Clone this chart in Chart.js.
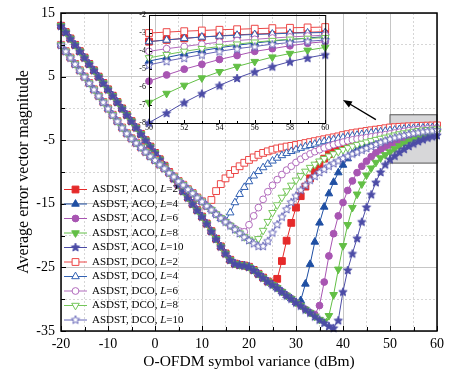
<!DOCTYPE html>
<html>
<head>
<meta charset="utf-8">
<script src="https://cdn.jsdelivr.net/npm/chart.js@4.4.0/dist/chart.umd.min.js"></script>
<style>
  body { margin: 0; background: #fff; }
  #wrap { position: relative; width: 450px; height: 384px; }
  #main { position: absolute; left: 0; top: 0; width: 450px; height: 384px; }
  #inset { position: absolute; left: 131px; top: 8px; width: 200px; height: 127px; }
</style>
</head>
<body>
<div id="wrap">
  <canvas id="main" width="450" height="384"></canvas>
  <canvas id="inset" width="200" height="127"></canvas>
</div>
<script>
"use strict";

// x grid of the simulation: -20 ... 60 dBm, step 1
const xValues = [];
for (let v = -20; v <= 60; v++) xValues.push(v);

// ACO curves all lie on this line until they break away (x = -20 ... 38)
const acoShared = [13.0, 12.0, 11.0, 10.0, 9.0, 8.0, 7.0, 6.0, 5.0, 4.0, 3.0, 2.0, 1.0, 0.0, -1.0,
  -2.0, -3.0, -4.0, -5.0, -6.0, -7.0, -8.0, -9.0, -10.0, -11.0, -12.0, -13.0, -14.0, -15.0, -16.0,
  -17.0, -18.1, -19.3, -20.5, -21.7, -22.8, -23.8, -24.4, -24.6, -24.7, -24.9, -25.4, -26.0, -26.6,
  -27.2, -27.7, -28.2, -28.8, -29.4, -29.9, -30.5, -31.0, -31.6, -32.1, -32.7, -33.2, -33.7, -34.2, -34.5];

// DCO curves share this line (x = -20 ... 22)
const dcoShared = [10.0, 9.0, 8.0, 7.0, 6.0, 5.0, 4.0, 3.0, 2.0, 1.0, 0.0, -1.0, -2.0, -3.0, -3.9,
  -4.7, -5.4, -6.1, -6.8, -7.5, -8.1, -8.8, -9.4, -10.1, -10.7, -11.4, -12.0, -12.7, -13.3, -14.0,
  -14.6, -15.3, -15.9, -16.6, -17.2, -17.8, -18.4, -19.0, -19.6, -20.2, -20.7, -21.2, -21.7];

// tails after each curve leaves the shared line, up to x = 60
const aco2Tail = [-27.5, -26.8, -24.0, -20.8, -18.0, -15.6, -13.8, -12.3, -11.0, -9.8, -8.8, -7.9,
  -7.2, -6.6, -6.1, -5.7, -5.35, -5.05, -4.78, -4.55, -4.35, -4.15, -3.97, -3.8, -3.63, -3.48,
  -3.38, -3.3, -3.22, -3.16, -3.1, -3.06, -3.02, -2.99, -2.96, -2.93];            // from x = 25
const aco4Tail = [-30.2, -27.6, -24.5, -21.0, -18.0, -15.5, -13.4, -11.6, -10.1, -8.9, -7.9, -7.1,
  -6.5, -6.0, -5.6, -5.3, -5.05, -4.85, -4.7, -4.56, -4.36, -4.16, -3.98, -3.82, -3.68, -3.56,
  -3.45, -3.36, -3.28, -3.2];                                                      // from x = 31
const aco6Tail = [-32.4, -31.0, -27.3, -23.2, -19.7, -16.9, -14.8, -12.9, -11.4, -10.1, -9.1, -8.3,
  -7.6, -7.0, -6.5, -6.05, -5.68, -5.33, -5.01, -4.74, -4.47, -4.25, -4.02, -3.87, -3.71, -3.57,
  -3.48];                                                                          // from x = 34
const aco8Tail = [-33.5, -32.6, -29.3, -25.3, -21.6, -18.3, -15.6, -13.5, -11.9, -10.5, -9.4, -8.5,
  -7.8, -7.3, -6.86, -6.36, -5.91, -5.5, -5.15, -4.86, -4.59, -4.34, -4.14, -3.96, -3.8]; // from x = 36
const aco10Tail = [-33.3, -28.8, -25.4, -22.8, -20.4, -17.8, -15.5, -13.5, -11.6, -10.0, -8.8, -7.98,
  -7.44, -6.86, -6.36, -5.91, -5.5, -5.15, -4.86, -4.59, -4.38, -4.2];              // from x = 39

const dco2Tail = [-14.4, -13.0, -11.9, -11.0, -10.3, -9.7, -9.1, -8.55, -8.1, -7.7, -7.3, -7.0,
  -6.75, -6.5, -6.3, -6.15, -6.0, -5.9, -5.75, -5.6, -5.45, -5.3, -5.15, -5.0, -4.85, -4.7, -4.55,
  -4.4, -4.2, -4.05, -3.9, -3.78, -3.66, -3.55, -3.44, -3.34, -3.24, -3.12, -3.0, -2.95, -2.9,
  -2.86, -2.82, -2.79, -2.76, -2.73, -2.71, -2.69, -2.67];                          // from x = 12
const dco4Tail = [-17.3, -17.7, -16.4, -14.8, -13.5, -12.4, -11.5, -10.6, -9.9, -9.3, -8.75, -8.25,
  -7.8, -7.4, -7.05, -6.75, -6.5, -6.25, -6.0, -5.8, -5.6, -5.4, -5.2, -5.05, -4.9, -4.75, -4.6,
  -4.45, -4.32, -4.2, -4.08, -3.97, -3.86, -3.76, -3.66, -3.57, -3.48, -3.39, -3.3, -3.22, -3.17,
  -3.12, -3.08, -3.05, -3.01, -2.99, -2.97];                                        // from x = 14
const dco6Tail = [-18.9, -19.3, -19.4, -18.3, -16.9, -15.6, -14.3, -13.1, -12.1, -11.2, -10.4, -9.7,
  -9.1, -8.5, -8.0, -7.55, -7.15, -6.8, -6.5, -6.2, -5.95, -5.7, -5.5, -5.3, -5.1, -4.95, -4.82,
  -4.71, -4.6, -4.48, -4.36, -4.24, -4.13, -4.02, -3.87, -3.75, -3.62, -3.51, -3.42, -3.35, -3.28,
  -3.22, -3.17, -3.12];                                                             // from x = 17
const dco8Tail = [-20.6, -20.9, -20.5, -19.2, -17.8, -16.4, -15.2, -14.0, -13.0, -12.1, -11.3, -10.6,
  -9.9, -9.3, -8.8, -8.3, -7.9, -7.5, -7.15, -6.8, -6.5, -6.2, -5.95, -5.7, -5.5, -5.3, -5.1, -4.9,
  -4.72, -4.55, -4.38, -4.2, -4.02, -3.87, -3.75, -3.62, -3.51, -3.42, -3.35, -3.3, -3.26]; // from x = 20
const dco10Tail = [-21.6, -21.6, -20.8, -19.5, -18.2, -17.0, -15.8, -14.7, -13.7, -12.8, -12.0, -11.2,
  -10.6, -10.0, -9.5, -9.0, -8.6, -8.2, -7.8, -7.45, -7.1, -6.8, -6.5, -6.2, -5.9, -5.6, -5.3, -5.03,
  -4.77, -4.56, -4.38, -4.2, -4.02, -3.87, -3.75, -3.62, -3.53, -3.46, -3.39];      // from x = 22

const join = (shared, startX, tail) => shared.slice(0, startX + 20).concat(tail);

const serif = "'Liberation Serif', 'Times New Roman', serif";

const makeStar = (color, filled, r) => {
    const s = Math.ceil(r * 2 + 3);
    const c = document.createElement("canvas");
    c.width = s; c.height = s;
    const g = c.getContext("2d");
    g.translate(s / 2, s / 2 + 0.5);
    g.beginPath();
    for (let k = 0; k < 10; k++) {
        const rad = k % 2 ? r * 0.45 : r;
        const a = -Math.PI / 2 + k * Math.PI / 5;
        g.lineTo(Math.cos(a) * rad, Math.sin(a) * rad);
    }
    g.closePath();
    g.fillStyle = filled ? color : "#fff";
    g.fill();
    g.strokeStyle = color; g.lineWidth = 1; g.stroke();
    return c;
};

const series = [
    { scheme: "ACO", L: 2,  color: "#e52a2a", shape: "rect",     filled: true,  values: join(acoShared, 25, aco2Tail) },
    { scheme: "ACO", L: 4,  color: "#1f4fa3", shape: "triangle", filled: true,  values: join(acoShared, 31, aco4Tail) },
    { scheme: "ACO", L: 6,  color: "#a855b2", shape: "circle",   filled: true,  values: join(acoShared, 34, aco6Tail) },
    { scheme: "ACO", L: 8,  color: "#63bf46", shape: "down",     filled: true,  values: join(acoShared, 36, aco8Tail) },
    { scheme: "ACO", L: 10, color: "#4c4ca6", shape: "star",     filled: true,  values: join(acoShared, 39, aco10Tail) },
    { scheme: "DCO", L: 2,  color: "#ec4646", shape: "rect",     filled: false, values: join(dcoShared, 12, dco2Tail) },
    { scheme: "DCO", L: 4,  color: "#3261b3", shape: "triangle", filled: false, values: join(dcoShared, 14, dco4Tail) },
    { scheme: "DCO", L: 6,  color: "#b26cbd", shape: "circle",   filled: false, values: join(dcoShared, 17, dco6Tail) },
    { scheme: "DCO", L: 8,  color: "#74c659", shape: "down",     filled: false, values: join(dcoShared, 20, dco8Tail) },
    { scheme: "DCO", L: 10, color: "#6666b8", shape: "star",     filled: false, values: join(dcoShared, 22, dco10Tail) }
];

series.forEach(s => { s.star = makeStar(s.color, s.filled, 4.4); });

const pointOpts = s => {
    if (s.shape === "rect") return { pointStyle: "rect", pointRadius: 4.8, pointRotation: 0 };
    if (s.shape === "circle") return { pointStyle: "circle", pointRadius: 3.4, pointRotation: 0 };
    if (s.shape === "triangle") return { pointStyle: "triangle", pointRadius: 4.4, pointRotation: 0 };
    if (s.shape === "down") return { pointStyle: "triangle", pointRadius: 4.4, pointRotation: 180 };
    return { pointStyle: s.star, pointRadius: 4.4, pointRotation: 0 };
};

const toDataset = (s, i, from) => Object.assign({
    label: `ASDST, ${s.scheme}, L=${s.L}`,
    data: xValues.map((x, k) => ({ x: x, y: s.values[k] })).filter(p => p.x >= from),
    borderColor: s.color,
    borderWidth: 1,
    pointBorderColor: s.color,
    pointBackgroundColor: s.filled ? s.color : "#fff",
    pointBorderWidth: 1,
    tension: 0,
    clip: false,
    order: -i
}, pointOpts(s));

// marker for the hand drawn legend
const drawMarker = (ctx, s, x, y) => {
    ctx.save();
    if (s.shape === "star") {
        ctx.drawImage(s.star, x - s.star.width / 2, y - s.star.height / 2 - 0.5);
        ctx.restore();
        return;
    }
    ctx.strokeStyle = s.color;
    ctx.fillStyle = s.filled ? s.color : "#fff";
    ctx.lineWidth = 1;
    ctx.beginPath();
    if (s.shape === "rect") {
        const h = 4.8 * Math.SQRT1_2;
        ctx.rect(x - h, y - h, 2 * h, 2 * h);
    } else if (s.shape === "circle") {
        ctx.arc(x, y, 3.4, 0, Math.PI * 2);
    } else {
        const r = 4.4;
        let a = s.shape === "down" ? Math.PI : 0;
        ctx.moveTo(x + Math.sin(a) * r, y - Math.cos(a) * r);
        a += Math.PI * 2 / 3;
        ctx.lineTo(x + Math.sin(a) * r, y - Math.cos(a) * r);
        a += Math.PI * 2 / 3;
        ctx.lineTo(x + Math.sin(a) * r, y - Math.cos(a) * r);
        ctx.closePath();
    }
    ctx.fill();
    ctx.stroke();
    ctx.restore();
};

// zoomed window marked on the main plot, and the arrow pointing to the inset
const zoomBox = { x0: 50, x1: 60, y0: -1, y1: -8.6 };
const arrow = { fromX: 47, fromY: -1.77, toX: 40, toY: 1.33 };

const inwardTicks = (ctx, chart, majorX, majorY, longLen, shortLen) => {
    const { x, y } = chart.scales;
    const a = chart.chartArea;
    ctx.strokeStyle = "#000";
    ctx.lineWidth = 1;
    x.ticks.forEach(t => {
        const px = Math.round(x.getPixelForValue(t.value)) + 0.5;
        const len = majorX(t.value) ? longLen : shortLen;
        ctx.beginPath(); ctx.moveTo(px, a.bottom); ctx.lineTo(px, a.bottom - len); ctx.stroke();
    });
    y.ticks.forEach(t => {
        const py = Math.round(y.getPixelForValue(t.value)) + 0.5;
        const len = majorY(t.value) ? longLen : shortLen;
        ctx.beginPath(); ctx.moveTo(a.left, py); ctx.lineTo(a.left + len, py); ctx.stroke();
    });
};

const isMajorX = v => v % 10 === 0;
const isMajorY = v => (v + 35) % 10 === 0;

const mainDecor = {
    id: "mainDecor",
    beforeDatasetsDraw(chart) {
        const { ctx, scales: { x, y } } = chart;
        const l = x.getPixelForValue(zoomBox.x0), r = x.getPixelForValue(zoomBox.x1);
        const t = y.getPixelForValue(zoomBox.y0), b = y.getPixelForValue(zoomBox.y1);
        ctx.save();
        ctx.fillStyle = "#d7d7d9";
        ctx.fillRect(l, t, r - l, b - t);
        ctx.strokeStyle = "#555";
        ctx.lineWidth = 1;
        ctx.strokeRect(l, t, r - l, b - t);
        ctx.restore();
    },
    afterDraw(chart) {
        const { ctx, scales: { x, y } } = chart;
        const a = chart.chartArea;
        ctx.save();
        inwardTicks(ctx, chart, isMajorX, isMajorY, 5, 4);
        ctx.strokeStyle = "#000";
        ctx.lineWidth = 1.5;
        ctx.strokeRect(a.left, a.top, a.right - a.left, a.bottom - a.top);

        // arrow
        const x0 = x.getPixelForValue(arrow.fromX), y0 = y.getPixelForValue(arrow.fromY);
        const x1 = x.getPixelForValue(arrow.toX), y1 = y.getPixelForValue(arrow.toY);
        const ang = Math.atan2(y1 - y0, x1 - x0);
        ctx.lineWidth = 1.3;
        ctx.beginPath(); ctx.moveTo(x0, y0);
        ctx.lineTo(x1 - Math.cos(ang) * 6, y1 - Math.sin(ang) * 6); ctx.stroke();
        ctx.fillStyle = "#000";
        ctx.beginPath();
        ctx.moveTo(x1, y1);
        ctx.lineTo(x1 - Math.cos(ang) * 9 - Math.sin(ang) * 3.5, y1 - Math.sin(ang) * 9 + Math.cos(ang) * 3.5);
        ctx.lineTo(x1 - Math.cos(ang) * 9 + Math.sin(ang) * 3.5, y1 - Math.sin(ang) * 9 - Math.cos(ang) * 3.5);
        ctx.closePath(); ctx.fill();

        // legend
        ctx.textBaseline = "middle";
        series.forEach((s, i) => {
            const yy = 189.5 + i * 14.5;
            ctx.strokeStyle = s.color;
            ctx.lineWidth = 1;
            ctx.beginPath(); ctx.moveTo(64, yy); ctx.lineTo(87, yy); ctx.stroke();
            drawMarker(ctx, s, 75.5, yy);
            ctx.fillStyle = "#000";
            let tx = 92;
            ctx.font = `11px ${serif}`;
            const head = `ASDST, ${s.scheme}, `;
            ctx.fillText(head, tx, yy);
            tx += ctx.measureText(head).width;
            ctx.font = `italic 11px ${serif}`;
            ctx.fillText("L", tx, yy);
            tx += ctx.measureText("L").width;
            ctx.font = `11px ${serif}`;
            ctx.fillText(`=${s.L}`, tx, yy);
        });
        ctx.restore();
    }
};

new Chart(document.getElementById("main"), {
    type: "line",
    data: { datasets: series.map((s, i) => toDataset(s, i, -20)) },
    options: {
        responsive: false,
        animation: false,
        devicePixelRatio: 1,
        layout: { padding: { left: 0, right: 13, top: 8, bottom: 0 } },
        plugins: { legend: { display: false }, tooltip: { enabled: false } },
        scales: {
            x: {
                type: "linear", min: -20, max: 60,
                afterFit: sc => { sc.height = 53; },
                ticks: {
                    stepSize: 5, autoSkip: false, maxRotation: 0, padding: 6, color: "#000",
                    font: { family: serif, size: 14, lineHeight: 1 },
                    callback: v => (isMajorX(v) ? String(v) : "")
                },
                grid: { drawTicks: false, color: c => (c.tick && isMajorX(c.tick.value) ? "#c6c6c6" : "#d6d6d6") },
                border: { display: false, dash: c => (c.tick && !isMajorX(c.tick.value) ? [2, 2] : []) },
                title: {
                    display: true, text: "O-OFDM symbol variance (dBm)", color: "#000",
                    font: { family: serif, size: 15.5 }, padding: { top: 0, bottom: 12.5 }
                }
            },
            y: {
                type: "linear", min: -35, max: 15,
                afterFit: sc => { sc.width = 61; },
                ticks: {
                    stepSize: 5, autoSkip: false, padding: 6, color: "#000",
                    font: { family: serif, size: 14, lineHeight: 1 },
                    callback: v => (isMajorY(v) ? String(v) : "")
                },
                grid: { drawTicks: false, color: c => (c.tick && isMajorY(c.tick.value) ? "#c6c6c6" : "#d6d6d6") },
                border: { display: false, dash: c => (c.tick && !isMajorY(c.tick.value) ? [2, 2] : []) },
                title: {
                    display: true, text: "Average error vector magnitude", color: "#000",
                    font: { family: serif, size: 16 }, padding: { top: 14, bottom: 0 }
                }
            }
        }
    },
    plugins: [mainDecor]
});

// inset: zoom on 50 ... 60 dBm
const insetDecor = {
    id: "insetDecor",
    afterDraw(chart) {
        const { ctx } = chart;
        const a = chart.chartArea;
        ctx.save();
        inwardTicks(ctx, chart, v => v % 2 === 0, () => true, 3, 2);
        ctx.strokeStyle = "#000";
        ctx.lineWidth = 1;
        ctx.strokeRect(a.left + 0.5, a.top + 0.5, a.right - a.left, a.bottom - a.top);
        ctx.restore();
    }
};

new Chart(document.getElementById("inset"), {
    type: "line",
    data: { datasets: series.map((s, i) => toDataset(s, i, 50)) },
    options: {
        responsive: false,
        animation: false,
        devicePixelRatio: 1,
        layout: { padding: { left: 0, right: 3, top: 4, bottom: 0 } },
        plugins: { legend: { display: false }, tooltip: { enabled: false } },
        scales: {
            x: {
                type: "linear", min: 50, max: 60,
                afterFit: sc => { sc.height = 12; },
                ticks: {
                    stepSize: 1, autoSkip: false, maxRotation: 0, padding: 1, color: "#000",
                    font: { family: serif, size: 8, lineHeight: 1 },
                    callback: v => (v % 2 === 0 ? String(v) : "")
                },
                grid: { display: false, drawTicks: false },
                border: { display: false }
            },
            y: {
                type: "linear", min: -8, max: -2,
                afterFit: sc => { sc.width = 18; },
                ticks: {
                    stepSize: 1, autoSkip: false, padding: 3, color: "#000",
                    font: { family: serif, size: 8, lineHeight: 1 }
                },
                grid: { display: false, drawTicks: false },
                border: { display: false }
            }
        }
    },
    plugins: [insetDecor]
});
</script>
</body>
</html>
